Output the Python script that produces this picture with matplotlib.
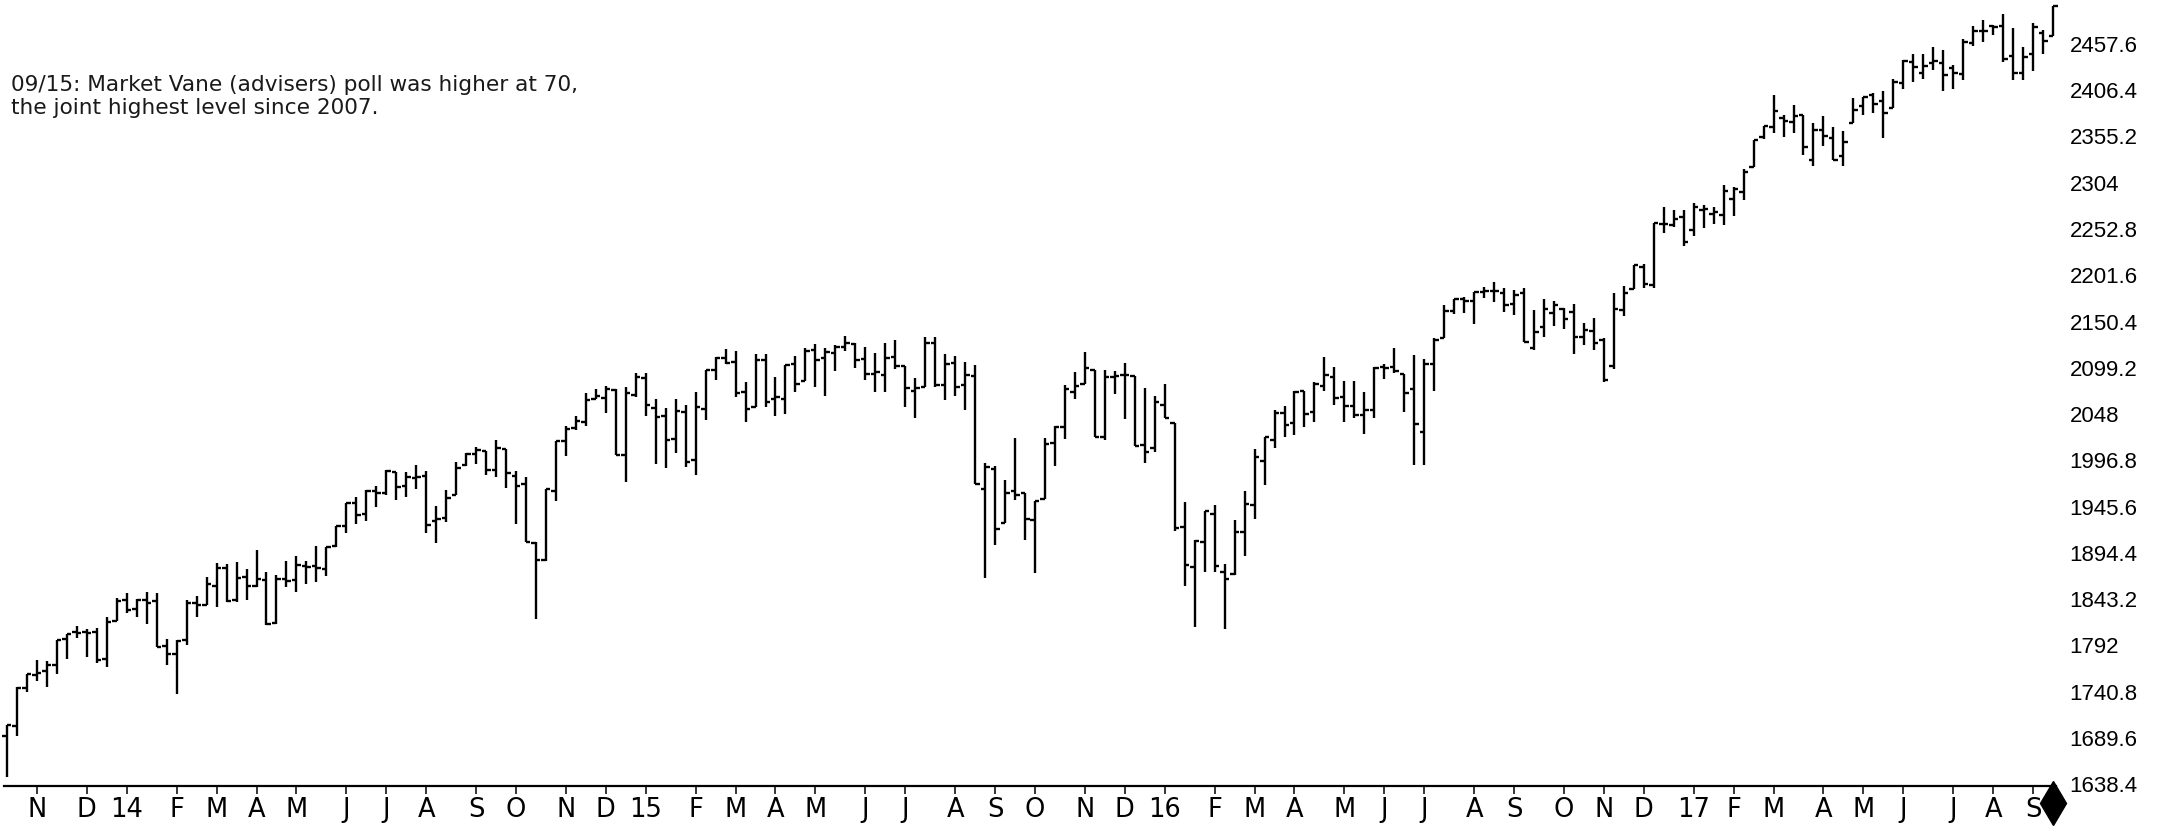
import numpy as np
import pandas as pd
import matplotlib
matplotlib.use("Agg")
import matplotlib.pyplot as plt
import matplotlib.transforms as mtransforms

# weekly bars, week ending Friday, 2013-10-11 .. 2017-09-15
week_end = pd.date_range("2013-10-11", periods=206, freq="W-FRI")

opens = [
    1691.7, 1702.7, 1744.7, 1759.4, 1763.4, 1769.6, 1798.8, 1806.3, 1806.6, 1806.2,
    1777.0, 1819.0, 1842.0, 1832.3, 1842.3, 1841.1, 1791.0, 1782.7, 1798.0, 1838.8,
    1836.8, 1857.7, 1878.0, 1841.8, 1867.7, 1858.0, 1863.9, 1816.8, 1865.8, 1864.0,
    1879.5, 1880.0, 1876.7, 1902.0, 1923.9, 1949.4, 1937.1, 1962.9, 1960.8, 1984.2,
    1968.2, 1977.1, 1979.0, 1929.8, 1933.4, 1958.4, 1991.7, 2004.1, 2007.2, 1986.5,
    2009.1, 1979.0, 1970.0, 1905.7, 1886.8, 1963.0, 2018.2, 2032.0, 2039.7, 2065.1,
    2065.8, 2074.8, 2002.9, 2069.3, 2087.6, 2054.4, 2046.1, 2020.8, 2050.4, 1996.7,
    2053.5, 2096.5, 2109.8, 2105.2, 2072.3, 2055.4, 2108.0, 2064.1, 2064.9, 2102.9,
    2084.1, 2119.3, 2110.2, 2115.6, 2122.3, 2125.3, 2108.6, 2092.3, 2091.3, 2110.6,
    2101.5, 2073.0, 2077.7, 2126.8, 2079.6, 2104.5, 2080.0, 2089.7, 1965.2, 1986.7,
    1927.3, 1963.1, 1960.8, 1930.9, 1954.3, 2015.7, 2033.5, 2071.9, 2080.8, 2096.6,
    2022.1, 2089.4, 2091.0, 2090.4, 2013.4, 2010.3, 2057.8, 2038.2, 1923.3, 1878.9,
    1906.3, 1936.9, 1873.3, 1871.4, 1917.6, 1947.1, 1996.1, 2019.3, 2048.6, 2037.9,
    2073.2, 2050.2, 2078.8, 2089.4, 2067.2, 2057.1, 2047.2, 2052.2, 2100.1, 2100.0,
    2091.8, 2075.6, 2028.0, 2103.0, 2131.7, 2162.0, 2175.1, 2173.1, 2183.1, 2183.7,
    2181.6, 2170.2, 2181.6, 2120.9, 2144.0, 2160.0, 2164.3, 2160.4, 2133.0, 2139.4,
    2129.8, 2100.6, 2163.0, 2186.4, 2210.2, 2191.1, 2258.8, 2257.5, 2266.2, 2251.6,
    2273.6, 2269.1, 2267.8, 2286.0, 2294.3, 2321.7, 2354.9, 2366.1, 2375.2, 2371.4,
    2379.3, 2329.1, 2362.3, 2353.8, 2334.0, 2370.3, 2388.5, 2401.4, 2394.0, 2387.2,
    2414.5, 2437.8, 2425.2, 2437.0, 2436.3, 2431.4, 2424.5, 2459.1, 2472.0, 2477.1,
    2477.1, 2444.7, 2425.5, 2447.0, 2470.0, 2466.1,
]
highs = [
    1703.4, 1745.3, 1759.8, 1775.2, 1774.5, 1798.2, 1804.8, 1813.6, 1810.0, 1811.5,
    1823.8, 1844.0, 1849.4, 1843.2, 1850.8, 1849.3, 1798.8, 1798.0, 1841.6, 1846.5,
    1867.9, 1883.6, 1882.4, 1884.0, 1875.9, 1897.3, 1872.9, 1869.6, 1884.9, 1891.3,
    1885.2, 1902.2, 1901.3, 1924.0, 1949.4, 1955.6, 1963.9, 1968.2, 1985.6, 1984.2,
    1983.9, 1991.4, 1985.2, 1946.7, 1964.0, 1994.8, 2005.0, 2011.2, 2007.2, 2019.3,
    2009.1, 1985.2, 1977.8, 1906.1, 1965.3, 2018.2, 2034.3, 2046.2, 2071.5, 2075.8,
    2079.5, 2075.8, 2077.9, 2093.6, 2093.6, 2064.4, 2054.7, 2064.6, 2057.6, 2072.4,
    2097.0, 2110.6, 2119.6, 2117.5, 2083.5, 2114.9, 2114.9, 2089.0, 2102.6, 2111.9,
    2120.9, 2125.9, 2121.0, 2123.9, 2134.7, 2126.2, 2121.9, 2115.0, 2126.6, 2129.9,
    2101.5, 2087.4, 2132.8, 2132.8, 2114.2, 2112.7, 2105.4, 2102.3, 1993.5, 1990.2,
    1975.0, 2020.9, 1960.8, 1952.0, 2020.9, 2034.6, 2079.7, 2094.3, 2116.5, 2096.6,
    2097.1, 2095.6, 2104.3, 2090.4, 2076.7, 2067.4, 2081.6, 2038.2, 1950.3, 1908.9,
    1940.2, 1947.2, 1881.6, 1930.7, 1963.0, 2009.1, 2022.4, 2052.4, 2056.6, 2074.0,
    2074.0, 2083.1, 2111.1, 2099.9, 2084.9, 2084.9, 2071.9, 2100.0, 2103.5, 2120.6,
    2091.8, 2113.3, 2108.7, 2131.7, 2169.1, 2175.6, 2177.1, 2183.5, 2188.5, 2193.8,
    2187.9, 2184.9, 2187.9, 2163.3, 2175.3, 2172.7, 2165.1, 2169.6, 2148.4, 2154.8,
    2131.6, 2182.3, 2189.9, 2213.4, 2214.1, 2259.8, 2277.5, 2273.8, 2273.8, 2282.1,
    2279.3, 2277.0, 2301.0, 2299.4, 2319.2, 2351.3, 2367.3, 2401.0, 2378.8, 2390.0,
    2379.3, 2370.4, 2378.4, 2365.4, 2361.4, 2398.2, 2399.3, 2403.9, 2405.8, 2418.7,
    2440.2, 2446.2, 2446.2, 2453.8, 2450.4, 2434.0, 2463.5, 2477.6, 2484.0, 2478.5,
    2490.9, 2474.9, 2454.8, 2480.4, 2472.9, 2500.2,
]
lows = [
    1646.5, 1692.1, 1740.5, 1752.7, 1746.2, 1760.6, 1777.2, 1800.4, 1779.1, 1772.3,
    1768.0, 1819.0, 1827.7, 1823.7, 1815.5, 1790.3, 1770.5, 1737.9, 1791.8, 1822.8,
    1836.8, 1834.4, 1839.6, 1839.5, 1842.1, 1856.7, 1814.4, 1816.0, 1856.0, 1851.0,
    1859.8, 1862.4, 1868.8, 1901.3, 1916.0, 1925.8, 1930.0, 1944.7, 1958.2, 1952.9,
    1955.6, 1965.1, 1916.5, 1904.8, 1928.9, 1958.4, 1990.5, 1992.4, 1980.3, 1978.6,
    1966.0, 1926.0, 1906.0, 1820.7, 1884.9, 1951.4, 2001.0, 2030.4, 2034.5, 2064.8,
    2049.6, 2002.3, 1972.6, 2067.0, 2046.0, 1992.4, 1988.1, 2004.5, 1989.2, 1980.9,
    2041.9, 2085.4, 2103.8, 2067.3, 2039.7, 2055.4, 2055.5, 2045.5, 2048.4, 2072.4,
    2084.1, 2077.8, 2067.9, 2095.2, 2117.7, 2099.2, 2085.7, 2072.1, 2072.5, 2098.0,
    2056.3, 2044.0, 2077.7, 2077.9, 2063.5, 2067.9, 2052.1, 1970.9, 1867.0, 1903.1,
    1927.3, 1953.0, 1908.8, 1871.9, 1954.3, 1990.7, 2019.9, 2064.3, 2080.8, 2023.0,
    2019.4, 2070.3, 2042.4, 2012.4, 1993.3, 2005.9, 2043.6, 1918.5, 1857.8, 1812.3,
    1872.7, 1872.7, 1810.1, 1869.8, 1891.0, 1931.8, 1969.3, 2010.9, 2022.5, 2024.3,
    2033.8, 2039.7, 2073.0, 2057.9, 2039.5, 2043.1, 2025.9, 2043.6, 2087.1, 2093.5,
    2050.4, 1991.7, 1991.7, 2074.0, 2131.7, 2159.0, 2159.5, 2147.6, 2176.0, 2172.0,
    2160.4, 2157.1, 2127.8, 2119.1, 2133.7, 2145.2, 2142.6, 2114.7, 2124.4, 2119.4,
    2083.8, 2097.6, 2156.8, 2186.4, 2187.4, 2187.9, 2248.4, 2254.5, 2233.6, 2245.1,
    2254.3, 2258.4, 2257.0, 2267.2, 2285.4, 2321.4, 2352.9, 2358.9, 2354.5, 2359.1,
    2335.0, 2322.3, 2344.7, 2329.0, 2323.0, 2369.9, 2378.6, 2381.7, 2353.0, 2386.8,
    2407.7, 2415.7, 2419.4, 2429.0, 2405.7, 2407.7, 2418.0, 2455.1, 2459.9, 2467.1,
    2437.8, 2417.4, 2417.3, 2428.2, 2446.6, 2466.1,
]
closes = [
    1703.2, 1744.5, 1759.8, 1761.6, 1770.6, 1798.2, 1804.8, 1805.8, 1805.1, 1775.3,
    1818.3, 1841.4, 1831.4, 1842.4, 1838.7, 1790.3, 1782.6, 1797.0, 1838.6, 1836.3,
    1859.5, 1878.0, 1841.1, 1866.5, 1857.6, 1865.1, 1815.7, 1864.9, 1863.4, 1881.1,
    1878.5, 1877.9, 1900.5, 1923.6, 1949.4, 1936.2, 1962.9, 1961.0, 1985.4, 1967.6,
    1978.2, 1978.3, 1925.2, 1931.6, 1955.1, 1988.4, 2003.4, 2007.7, 1985.5, 2010.4,
    1982.9, 1967.9, 1906.1, 1886.8, 1964.6, 2018.1, 2031.9, 2039.8, 2063.5, 2067.6,
    2075.4, 2002.3, 2070.7, 2088.8, 2058.2, 2044.8, 2019.4, 2051.8, 1995.0, 2055.5,
    2097.0, 2110.3, 2104.5, 2071.3, 2053.4, 2108.1, 2061.0, 2067.0, 2102.1, 2081.2,
    2117.7, 2108.3, 2116.1, 2122.7, 2126.1, 2107.4, 2092.8, 2094.1, 2110.0, 2101.5,
    2076.8, 2076.6, 2126.6, 2079.7, 2103.8, 2077.6, 2091.5, 1970.9, 1988.9, 1921.2,
    1961.1, 1958.0, 1931.3, 1951.4, 2014.9, 2033.1, 2075.2, 2079.4, 2099.2, 2023.0,
    2089.2, 2090.1, 2091.7, 2012.4, 2005.6, 2061.0, 2043.9, 1922.0, 1880.3, 1906.9,
    1940.2, 1880.0, 1864.8, 1917.8, 1948.1, 2000.0, 2022.2, 2049.6, 2035.9, 2072.8,
    2047.6, 2080.7, 2091.6, 2065.3, 2057.1, 2046.6, 2052.3, 2099.1, 2099.1, 2096.1,
    2071.2, 2037.4, 2103.0, 2129.9, 2161.7, 2175.0, 2173.6, 2182.9, 2184.1, 2183.9,
    2169.0, 2180.0, 2127.8, 2139.2, 2164.7, 2168.3, 2153.7, 2133.0, 2141.2, 2126.4,
    2085.2, 2164.4, 2181.9, 2213.4, 2192.0, 2259.5, 2258.1, 2263.8, 2238.8, 2277.0,
    2274.6, 2271.3, 2294.7, 2297.4, 2316.1, 2351.2, 2367.3, 2383.1, 2372.6, 2378.3,
    2344.0, 2362.7, 2355.5, 2329.0, 2348.7, 2384.2, 2399.3, 2390.9, 2381.7, 2415.8,
    2439.1, 2431.8, 2433.2, 2438.3, 2423.4, 2425.2, 2459.3, 2472.5, 2472.1, 2476.8,
    2441.3, 2425.6, 2443.1, 2476.6, 2461.4, 2500.2,
]

price_levels = [1638.4 + 51.2 * k for k in range(17)]
note = ("09/15: Market Vane (advisers) poll was higher at 70,\n"
        "the joint highest level since 2007.")

W, H = 2175, 827
fig = plt.figure(figsize=(W / 100, H / 100), dpi=100)
ax = fig.add_axes([0, 41 / H, 2060 / W, 786 / H])

x = np.arange(len(week_end))
half = 0.45
ax.vlines(x, lows, highs, color="black", lw=1.7)
ax.hlines(opens, x - half, x, color="black", lw=1.7)
ax.hlines(closes, x, x + half, color="black", lw=1.7)

ax.set_xlim(-0.70, 205.7)
ax.set_ylim(1636.2, 2506.3)

# month ticks: first week of each month, January shows the year
tick_pos, tick_lab = [], []
for i in range(1, len(week_end)):
    if week_end[i].month != week_end[i - 1].month:
        tick_pos.append(i)
        d = week_end[i]
        tick_lab.append(d.strftime("%y") if d.month == 1 else d.strftime("%b")[0])
ax.set_xticks(tick_pos)
ax.set_xticklabels(tick_lab, fontsize=18.5, family=["Liberation Sans Narrow", "DejaVu Sans"])
ax.tick_params(axis="x", length=5.5, width=1.1, pad=2.5, color="black")

ax.yaxis.tick_right()
ax.set_yticks(price_levels)
ax.set_yticklabels([f"{v:g}" for v in price_levels], fontsize=16,
                   family=["Liberation Sans", "DejaVu Sans"])
ax.tick_params(axis="y", length=0, pad=7)

for s in ("top", "left", "right"):
    ax.spines[s].set_visible(False)
ax.spines["bottom"].set_linewidth(1.6)
ax.spines["bottom"].set_bounds(-0.3, 205.3)

# marker for the current bar under the axis
trans = mtransforms.blended_transform_factory(ax.transData, ax.transAxes)
ax.plot([x[-1]], [-0.022], marker="d", ms=22, color="black", transform=trans,
        clip_on=False)

fig.text(11 / W, 1 - 75 / H, note, ha="left", va="top", fontsize=15.6,
         color="#1a1a1a", linespacing=1.17, family="DejaVu Sans")

fig.savefig("out.png", dpi=100, facecolor="white")
